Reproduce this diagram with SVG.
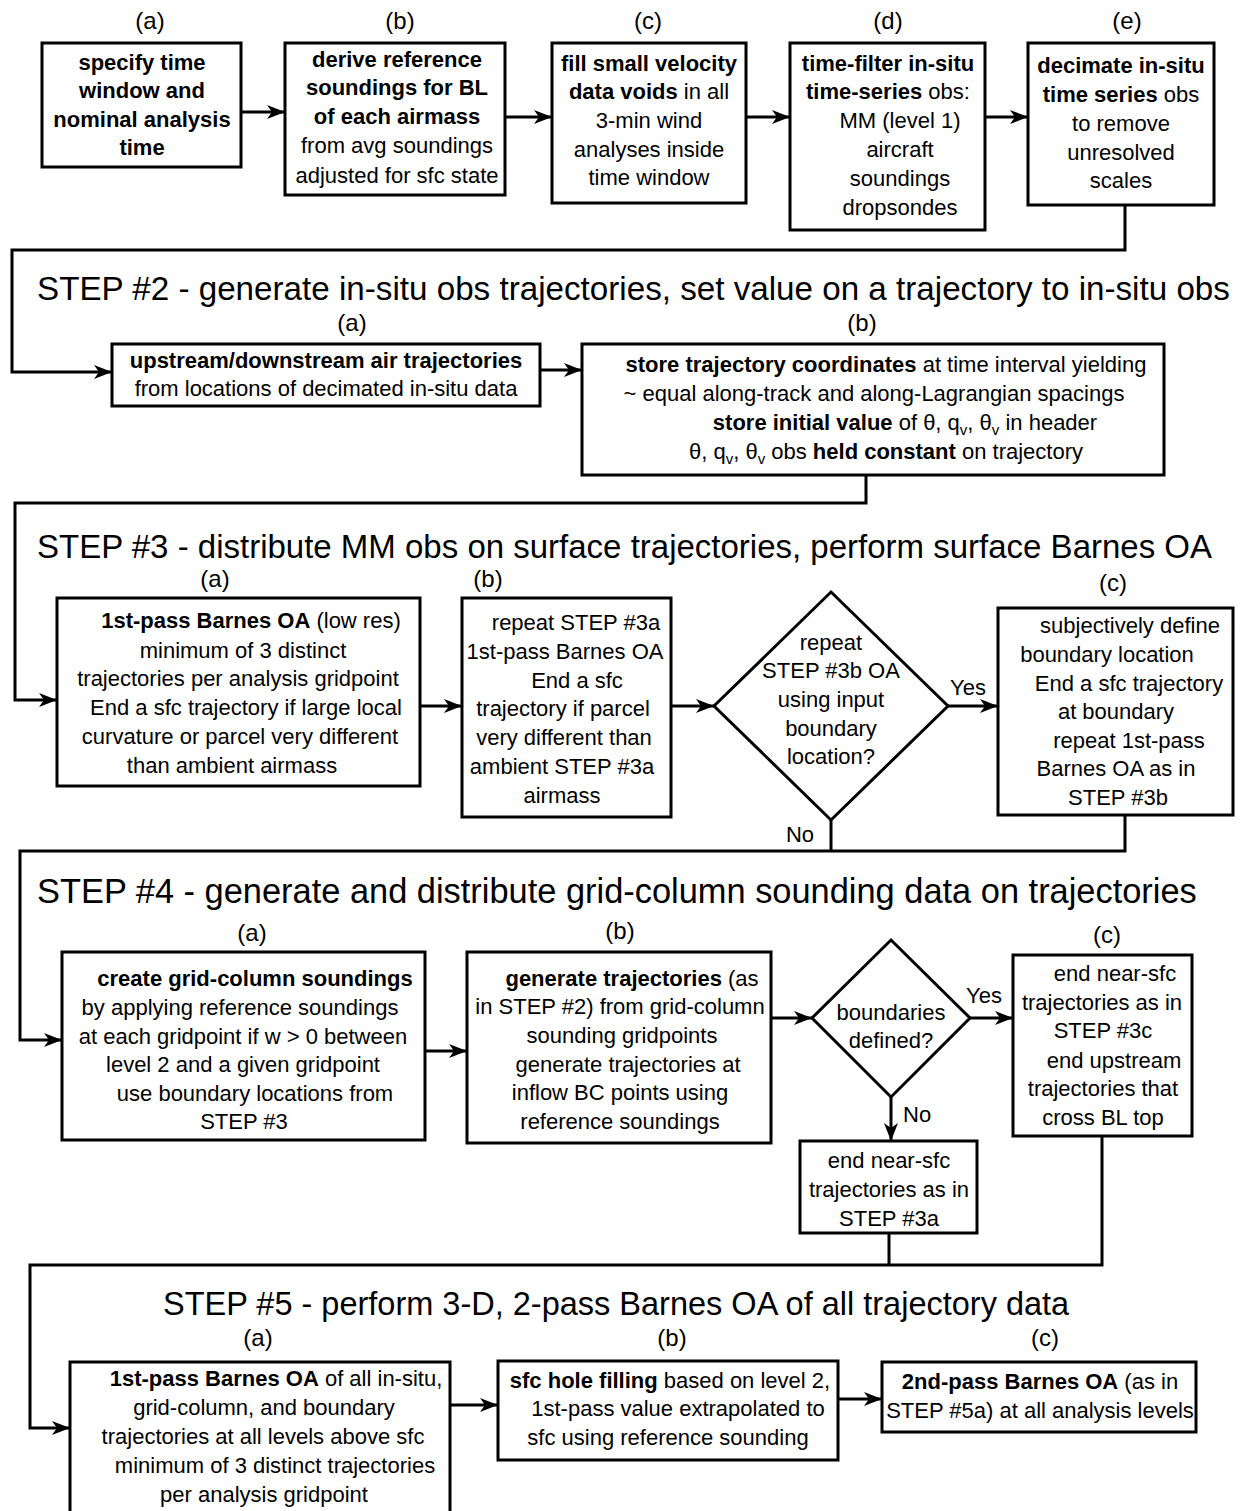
<svg xmlns="http://www.w3.org/2000/svg" width="1243" height="1511" viewBox="0 0 1243 1511">
<style>
.box{fill:#fff;stroke:#000;stroke-width:3}
.t{font-family:"Liberation Sans",Arial,sans-serif;font-size:22px;text-anchor:middle;fill:#000}
.s{text-anchor:start}
.b{font-weight:bold}
.title{text-anchor:start}
.lbl{font-size:24px}
.conn{fill:none;stroke:#000;stroke-width:3}
.sub{font-size:15px}
</style>
<defs>
<marker id="arr" markerUnits="userSpaceOnUse" markerWidth="20" markerHeight="14" refX="18" refY="7" orient="auto"><path d="M0,0 L18,7 L0,14 L5,7 Z" fill="#000"/></marker>
</defs>
<rect width="1243" height="1511" fill="#fff"/>

<g id="labels">
<text class="t lbl" x="150" y="29">(a)</text>
<text class="t lbl" x="400" y="29">(b)</text>
<text class="t lbl" x="648" y="29">(c)</text>
<text class="t lbl" x="888" y="29">(d)</text>
<text class="t lbl" x="1127" y="29">(e)</text>
<text class="t title" x="37" y="300" style="font-size:33.2px">STEP #2 - generate in-situ obs trajectories, set value on a trajectory to in-situ obs</text>
<text class="t lbl" x="352" y="331">(a)</text>
<text class="t lbl" x="862" y="331">(b)</text>
<text class="t title" x="37" y="558" style="font-size:33px">STEP #3 - distribute MM obs on surface trajectories, perform surface Barnes OA</text>
<text class="t lbl" x="215" y="587">(a)</text>
<text class="t lbl" x="488" y="587">(b)</text>
<text class="t lbl" x="1113" y="591">(c)</text>
<text class="t title" x="37" y="903" style="font-size:34.4px">STEP #4 - generate and distribute grid-column sounding data on trajectories</text>
<text class="t lbl" x="252" y="941">(a)</text>
<text class="t lbl" x="620" y="939">(b)</text>
<text class="t lbl" x="1107" y="943">(c)</text>
<text class="t title" x="163" y="1315" style="font-size:32.5px">STEP #5 - perform 3-D, 2-pass Barnes OA of all trajectory data</text>
<text class="t lbl" x="258" y="1346">(a)</text>
<text class="t lbl" x="672" y="1346">(b)</text>
<text class="t lbl" x="1045" y="1346">(c)</text>
</g>

<g id="connectors">
<line class="conn" x1="241" y1="112" x2="285" y2="112" marker-end="url(#arr)"/>
<line class="conn" x1="505" y1="117" x2="552" y2="117" marker-end="url(#arr)"/>
<line class="conn" x1="746" y1="117" x2="790" y2="117" marker-end="url(#arr)"/>
<line class="conn" x1="985" y1="117" x2="1028" y2="117" marker-end="url(#arr)"/>
<polyline class="conn" points="1125,205 1125,250 12,250 12,372 112,372" marker-end="url(#arr)"/>
<line class="conn" x1="540" y1="370" x2="582" y2="370" marker-end="url(#arr)"/>
<polyline class="conn" points="866,475 866,503 15,503 15,700 57,700" marker-end="url(#arr)"/>
<line class="conn" x1="420" y1="706" x2="462" y2="706" marker-end="url(#arr)"/>
<line class="conn" x1="671" y1="706" x2="714" y2="706" marker-end="url(#arr)"/>
<line class="conn" x1="948" y1="706" x2="998" y2="706" marker-end="url(#arr)"/>
<polyline class="conn" points="831,820 831,851"/>
<polyline class="conn" points="1125,815 1125,851 20,851 20,1040 62,1040" marker-end="url(#arr)"/>
<line class="conn" x1="425" y1="1051" x2="467" y2="1051" marker-end="url(#arr)"/>
<line class="conn" x1="771" y1="1018" x2="812" y2="1018" marker-end="url(#arr)"/>
<line class="conn" x1="970" y1="1018" x2="1013" y2="1018" marker-end="url(#arr)"/>
<line class="conn" x1="891" y1="1097" x2="891" y2="1141" marker-end="url(#arr)"/>
<polyline class="conn" points="889,1233 889,1265"/>
<polyline class="conn" points="1102,1136 1102,1265 30,1265 30,1428 70,1428" marker-end="url(#arr)"/>
<line class="conn" x1="450" y1="1405" x2="498" y2="1405" marker-end="url(#arr)"/>
<line class="conn" x1="838" y1="1399" x2="882" y2="1399" marker-end="url(#arr)"/>
<text class="t" x="968" y="695">Yes</text>
<text class="t" x="800" y="842">No</text>
<text class="t" x="984" y="1003">Yes</text>
<text class="t s" x="903" y="1122">No</text>
</g>

<g id="n1a">
<rect class="box" x="42" y="43" width="199" height="124"/>
<text class="t b" x="142" y="70">specify time</text>
<text class="t b" x="142" y="98">window and</text>
<text class="t b" x="142" y="127">nominal analysis</text>
<text class="t b" x="142" y="155">time</text>
</g>
<g id="n1b">
<rect class="box" x="285" y="43" width="220" height="152"/>
<text class="t b" x="397" y="67">derive reference</text>
<text class="t b" x="397" y="95">soundings for BL</text>
<text class="t b" x="397" y="124">of each airmass</text>
<text class="t" x="397" y="153">from avg soundings</text>
<text class="t" x="397" y="183">adjusted for sfc state</text>
</g>
<g id="n1c">
<rect class="box" x="552" y="43" width="194" height="160"/>
<text class="t b" x="649" y="71">fill small velocity</text>
<text class="t" x="649" y="99"><tspan class="b">data voids</tspan> in all</text>
<text class="t" x="649" y="128">3-min wind</text>
<text class="t" x="649" y="157">analyses inside</text>
<text class="t" x="649" y="185">time window</text>
</g>
<g id="n1d">
<rect class="box" x="790" y="43" width="195" height="187"/>
<text class="t b" x="888" y="71">time-filter in-situ</text>
<text class="t" x="888" y="99"><tspan class="b">time-series</tspan> obs:</text>
<text class="t" x="900" y="128">MM (level 1)</text>
<text class="t" x="900" y="157">aircraft</text>
<text class="t" x="900" y="186">soundings</text>
<text class="t" x="900" y="215">dropsondes</text>
</g>
<g id="n1e">
<rect class="box" x="1028" y="43" width="186" height="162"/>
<text class="t b" x="1121" y="73">decimate in-situ</text>
<text class="t" x="1121" y="102"><tspan class="b">time series</tspan> obs</text>
<text class="t" x="1121" y="131">to remove</text>
<text class="t" x="1121" y="160">unresolved</text>
<text class="t" x="1121" y="188">scales</text>
</g>

<g id="n2a">
<rect class="box" x="112" y="344" width="428" height="62"/>
<text class="t b" x="326" y="368">upstream/downstream air trajectories</text>
<text class="t" x="326" y="396">from locations of decimated in-situ data</text>
</g>
<g id="n2b">
<rect class="box" x="582" y="344" width="582" height="131"/>
<text class="t" x="886" y="372"><tspan class="b">store trajectory coordinates</tspan> at time interval yielding</text>
<text class="t" x="874" y="401">~ equal along-track and along-Lagrangian spacings</text>
<text class="t" x="905" y="430"><tspan class="b">store initial value</tspan> of θ, q<tspan class="sub" dy="5">v</tspan><tspan dy="-5">, θ</tspan><tspan class="sub" dy="5">v</tspan><tspan dy="-5"> in header</tspan></text>
<text class="t" x="886" y="459">θ, q<tspan class="sub" dy="5">v</tspan><tspan dy="-5">, θ</tspan><tspan class="sub" dy="5">v</tspan><tspan dy="-5"> obs </tspan><tspan class="b">held constant</tspan> on trajectory</text>
</g>

<g id="n3a">
<rect class="box" x="57" y="598" width="363" height="188"/>
<text class="t" x="251" y="628"><tspan class="b">1st-pass Barnes OA</tspan> (low res)</text>
<text class="t" x="243" y="658">minimum of 3 distinct</text>
<text class="t" x="238" y="686">trajectories per analysis gridpoint</text>
<text class="t" x="246" y="715">End a sfc trajectory if large local</text>
<text class="t" x="240" y="744">curvature or parcel very different</text>
<text class="t" x="232" y="773">than ambient airmass</text>
</g>
<g id="n3b">
<rect class="box" x="462" y="598" width="209" height="219"/>
<text class="t" x="576" y="630">repeat STEP #3a</text>
<text class="t" x="565" y="659">1st-pass Barnes OA</text>
<text class="t" x="577" y="688">End a sfc</text>
<text class="t" x="563" y="716">trajectory if parcel</text>
<text class="t" x="564" y="745">very different than</text>
<text class="t" x="562" y="774">ambient STEP #3a</text>
<text class="t" x="562" y="803">airmass</text>
</g>
<g id="n3d">
<polygon class="box" points="831,592 948,706 831,820 714,706"/>
<text class="t" x="831" y="650">repeat</text>
<text class="t" x="831" y="678">STEP #3b OA</text>
<text class="t" x="831" y="707">using input</text>
<text class="t" x="831" y="736">boundary</text>
<text class="t" x="831" y="764">location?</text>
</g>
<g id="n3c">
<rect class="box" x="998" y="608" width="235" height="207"/>
<text class="t" x="1130" y="633">subjectively define</text>
<text class="t" x="1107" y="662">boundary location</text>
<text class="t" x="1129" y="691">End a sfc trajectory</text>
<text class="t" x="1116" y="719">at boundary</text>
<text class="t" x="1129" y="748">repeat 1st-pass</text>
<text class="t" x="1116" y="776">Barnes OA as in</text>
<text class="t" x="1118" y="805">STEP #3b</text>
</g>

<g id="n4a">
<rect class="box" x="62" y="952" width="363" height="188"/>
<text class="t b" x="255" y="986">create grid-column soundings</text>
<text class="t" x="240" y="1015">by applying reference soundings</text>
<text class="t" x="243" y="1044">at each gridpoint if w &gt; 0 between</text>
<text class="t" x="243" y="1072">level 2 and a given gridpoint</text>
<text class="t" x="255" y="1101">use boundary locations from</text>
<text class="t" x="244" y="1129">STEP #3</text>
</g>
<g id="n4b">
<rect class="box" x="467" y="952" width="304" height="191"/>
<text class="t" x="632" y="986"><tspan class="b">generate trajectories</tspan> (as</text>
<text class="t" x="620" y="1014">in STEP #2) from grid-column</text>
<text class="t" x="622" y="1043">sounding gridpoints</text>
<text class="t" x="628" y="1072">generate trajectories at</text>
<text class="t" x="620" y="1100">inflow BC points using</text>
<text class="t" x="620" y="1129">reference soundings</text>
</g>
<g id="n4d">
<polygon class="box" points="891,940 970,1018 891,1097 812,1018"/>
<text class="t" x="891" y="1020">boundaries</text>
<text class="t" x="891" y="1048">defined?</text>
</g>
<g id="n4c">
<rect class="box" x="1013" y="955" width="179" height="181"/>
<text class="t" x="1115" y="981">end near-sfc</text>
<text class="t" x="1102" y="1010">trajectories as in</text>
<text class="t" x="1103" y="1038">STEP #3c</text>
<text class="t" x="1114" y="1068">end upstream</text>
<text class="t" x="1103" y="1096">trajectories that</text>
<text class="t" x="1103" y="1125">cross BL top</text>
</g>
<g id="n4e">
<rect class="box" x="800" y="1141" width="177" height="92"/>
<text class="t" x="889" y="1168">end near-sfc</text>
<text class="t" x="889" y="1197">trajectories as in</text>
<text class="t" x="889" y="1226">STEP #3a</text>
</g>

<g id="n5a">
<rect class="box" x="70" y="1362" width="380" height="160"/>
<text class="t" x="276" y="1386"><tspan class="b">1st-pass Barnes OA</tspan> of all in-situ,</text>
<text class="t" x="264" y="1415">grid-column, and boundary</text>
<text class="t" x="263" y="1444">trajectories at all levels above sfc</text>
<text class="t" x="275" y="1473">minimum of 3 distinct trajectories</text>
<text class="t" x="264" y="1502">per analysis gridpoint</text>
</g>
<g id="n5b">
<rect class="box" x="498" y="1361" width="340" height="99"/>
<text class="t" x="670" y="1388"><tspan class="b">sfc hole filling</tspan> based on level 2,</text>
<text class="t" x="678" y="1416">1st-pass value extrapolated to</text>
<text class="t" x="668" y="1445">sfc using reference sounding</text>
</g>
<g id="n5c">
<rect class="box" x="882" y="1362" width="314" height="70"/>
<text class="t" x="1040" y="1389"><tspan class="b">2nd-pass Barnes OA</tspan> (as in</text>
<text class="t" x="1040" y="1418">STEP #5a) at all analysis levels</text>
</g>
</svg>
